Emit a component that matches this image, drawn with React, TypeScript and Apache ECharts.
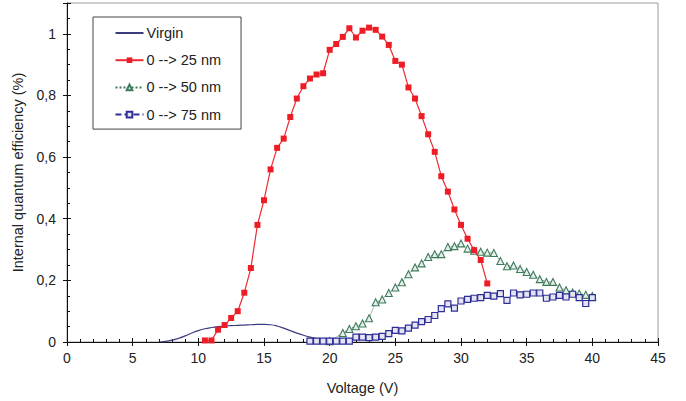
import React, { useEffect, useRef } from "react";
import * as echarts from "echarts";

const virginV = [7, 7.5, 8, 8.5, 9, 9.5, 10, 10.5, 11, 11.5, 12, 12.5, 13, 13.5, 14, 14.5, 15, 15.5, 16, 16.5, 17, 17.5, 18, 18.5, 19, 19.5, 20, 20.5, 21];
const virginY = [0, 0.002, 0.006, 0.012, 0.02, 0.029, 0.037, 0.043, 0.047, 0.05, 0.052, 0.053, 0.054, 0.055, 0.056, 0.057, 0.057, 0.056, 0.052, 0.045, 0.037, 0.029, 0.022, 0.016, 0.011, 0.007, 0.004, 0.003, 0.002];

const red25V = [10.5, 11, 11.5, 12, 12.5, 13, 13.5, 14, 14.5, 15, 15.5, 16, 16.5, 17, 17.5, 18, 18.5, 19, 19.5, 20, 20.5, 21, 21.5, 22, 22.5, 23, 23.5, 24, 24.5, 25, 25.5, 26, 26.5, 27, 27.5, 28, 28.5, 29, 29.5, 30, 30.5, 31, 31.5, 32];
const red25Y = [0.005, 0.005, 0.04, 0.055, 0.078, 0.1, 0.16, 0.24, 0.38, 0.46, 0.56, 0.63, 0.66, 0.73, 0.79, 0.83, 0.855, 0.868, 0.872, 0.948, 0.967, 0.99, 1.018, 0.988, 1.01, 1.02, 1.013, 0.991, 0.964, 0.912, 0.9, 0.826, 0.79, 0.733, 0.674, 0.617, 0.538, 0.488, 0.43, 0.38, 0.335, 0.298, 0.266, 0.19];

const green50V = [20, 21, 21.5, 22, 22.5, 23, 23.5, 24, 24.5, 25, 25.5, 26, 26.5, 27, 27.5, 28, 28.5, 29, 29.5, 30, 30.5, 31, 31.5, 32, 32.5, 33, 33.5, 34, 34.5, 35, 35.5, 36, 36.5, 37, 37.5, 38, 38.5, 39, 39.5, 40];
const green50Y = [0.003, 0.029, 0.042, 0.051, 0.06, 0.077, 0.129, 0.138, 0.159, 0.177, 0.194, 0.22, 0.242, 0.255, 0.276, 0.285, 0.285, 0.308, 0.311, 0.32, 0.303, 0.296, 0.293, 0.29, 0.289, 0.263, 0.246, 0.248, 0.237, 0.227, 0.218, 0.204, 0.195, 0.195, 0.177, 0.168, 0.161, 0.157, 0.153, 0.149];

const blue75V = [18.5, 19, 19.5, 20, 20.5, 21, 21.5, 22, 22.5, 23, 23.5, 24, 24.5, 25, 25.5, 26, 26.5, 27, 27.5, 28, 28.5, 29, 29.5, 30, 30.5, 31, 31.5, 32, 32.5, 33, 33.5, 34, 34.5, 35, 35.5, 36, 36.5, 37, 37.5, 38, 38.5, 39, 39.5, 40];
const blue75Y = [0.003, 0.003, 0.003, 0.003, 0.003, 0.003, 0.003, 0.016, 0.016, 0.014, 0.016, 0.018, 0.027, 0.038, 0.036, 0.045, 0.055, 0.066, 0.073, 0.086, 0.108, 0.124, 0.11, 0.133, 0.138, 0.142, 0.144, 0.151, 0.149, 0.157, 0.135, 0.159, 0.153, 0.155, 0.159, 0.159, 0.142, 0.146, 0.151, 0.146, 0.155, 0.144, 0.125, 0.144];

const seriesNames = ["Virgin", "0 --> 25 nm", "0 --> 50 nm", "0 --> 75 nm"];

const pairs = (xs: number[], ys: number[]) => xs.map((x, i) => [x, ys[i]]);

const FONT = "Liberation Sans, Arial, sans-serif";

export default function App() {
  const ref = useRef<HTMLDivElement>(null);
  useEffect(() => {
    if (!ref.current) return;
    const chart = echarts.init(ref.current, undefined, { renderer: "svg" });
    const fmt = (v: number) => (v > 1.05 ? "" : String(Number(v.toFixed(1))).replace(".", ","));
    chart.setOption({
      animation: false,
      backgroundColor: "#fff",
      textStyle: { fontFamily: FONT },
      grid: { left: 67, right: 28, top: 3, bottom: 59, show: true, borderColor: "#9a9a9a", borderWidth: 1, backgroundColor: "transparent" },
      legend: {
        orient: "vertical",
        left: 93,
        top: 17,
        itemWidth: 28,
        itemHeight: 7,
        itemGap: 12.2,
        padding: [8.5, 20, 7, 21.5],
        borderColor: "#444",
        borderWidth: 1,
        backgroundColor: "#fff",
        textStyle: { fontSize: 14.5, color: "#222", fontFamily: FONT, padding: [0, 0, 0, -2] },
        data: [
          { name: seriesNames[0], itemStyle: { opacity: 0 } },
          { name: seriesNames[1] },
          { name: seriesNames[2] },
          { name: seriesNames[3] },
        ],
      },
      xAxis: [
        {
          type: "value", min: 0, max: 45, interval: 5,
          name: "Voltage (V)", nameLocation: "middle", nameGap: 38,
          nameTextStyle: { fontSize: 14.5, color: "#222", fontFamily: FONT },
          axisLine: { show: true, lineStyle: { color: "#111", width: 1 } },
          axisTick: { show: true, inside: true, length: 4, lineStyle: { color: "#111" } },
          minorTick: { show: true, splitNumber: 5, length: 3, lineStyle: { color: "#111" } },
          axisLabel: { margin: 9, fontSize: 14, color: "#222", fontFamily: FONT },
          splitLine: { show: false },
        },
        {
          type: "value", min: 0, max: 45, interval: 5, position: "bottom",
          axisLine: { show: false },
          axisTick: { show: true, inside: false, length: 4, lineStyle: { color: "#111" } },
          axisLabel: { show: false },
          splitLine: { show: false },
        },
      ],
      yAxis: [
        {
          type: "value", min: 0, max: 1.1, interval: 0.2,
          name: "Internal quantum efficiency (%)", nameLocation: "middle", nameGap: 35,
          nameTextStyle: { fontSize: 14.5, color: "#222", fontFamily: FONT },
          axisLine: { show: true, lineStyle: { color: "#111", width: 1 } },
          axisTick: { show: true, inside: true, length: 4, lineStyle: { color: "#111" } },
          minorTick: { show: true, splitNumber: 4, length: 3, lineStyle: { color: "#111" } },
          axisLabel: { margin: 11, fontSize: 14, color: "#222", fontFamily: FONT, formatter: fmt },
          splitLine: { show: false },
        },
        {
          type: "value", min: 0, max: 1.1, interval: 0.2, position: "left",
          axisLine: { show: false },
          axisTick: { show: true, inside: false, length: 4, lineStyle: { color: "#111" } },
          axisLabel: { show: false },
          splitLine: { show: false },
        },
      ],
      series: [
        {
          name: seriesNames[0], type: "line", data: pairs(virginV, virginY), smooth: true,
          symbol: "none", lineStyle: { color: "#3b3b80", width: 1.2 }, itemStyle: { color: "#3b3b80" },
          z: 2,
        },
        {
          name: seriesNames[1], type: "line", data: pairs(red25V, red25Y),
          symbol: "rect", symbolSize: 6,
          lineStyle: { color: "#ee2a32", width: 1.2 },
          itemStyle: { color: "#ee1c25", borderColor: "#ee1c25", borderWidth: 0 },
          z: 4,
        },
        {
          name: seriesNames[2], type: "line", data: pairs(green50V, green50Y),
          symbol: "triangle", symbolSize: 7,
          lineStyle: { color: "#3f7a5c", width: 1, type: "dotted" },
          itemStyle: { color: "#e6f0e8", borderColor: "#3f7a5c", borderWidth: 1.1 },
          z: 3,
        },
        {
          name: seriesNames[3], type: "line", data: pairs(blue75V, blue75Y),
          symbol: "rect", symbolSize: 6,
          lineStyle: { color: "#2e2e96", width: 1, type: [6, 3] },
          itemStyle: { color: "#e4e4f4", borderColor: "#2e2e96", borderWidth: 1.2 },
          z: 3,
        },
      ],
    });
    return () => chart.dispose();
  }, []);
  return <div ref={ref} style={{ position: "fixed", left: 0, top: 0, width: 686, height: 401 }} />;
}
